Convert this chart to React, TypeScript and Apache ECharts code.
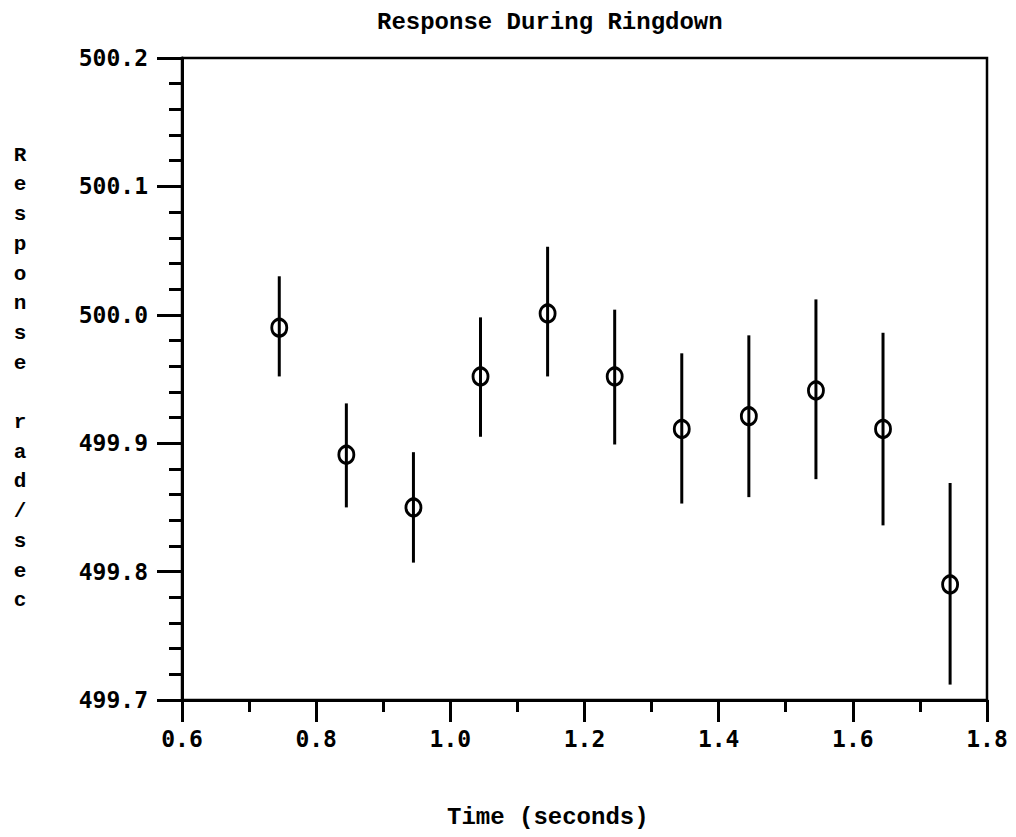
import React, { useEffect, useRef } from "react";
import * as echarts from "echarts";

const timeValues = [0.745, 0.845, 0.945, 1.045, 1.145, 1.245, 1.345, 1.445, 1.545, 1.645, 1.745];
const responseValues = [499.990, 499.891, 499.850, 499.952, 500.001, 499.952, 499.911, 499.921, 499.941, 499.911, 499.790];
const lowValues = [499.952, 499.850, 499.807, 499.905, 499.952, 499.899, 499.853, 499.858, 499.872, 499.836, 499.712];
const highValues = [500.030, 499.931, 499.893, 499.998, 500.053, 500.004, 499.970, 499.984, 500.012, 499.986, 499.869];

const titleText = "Response During Ringdown";
const xAxisTitle = "Time (seconds)";
const yAxisTitle = "Response rad/sec";

const tickFont = "DejaVu Sans Mono";
const textFont = "Liberation Mono";

export default function App() {
  const ref = useRef<HTMLDivElement>(null);
  useEffect(() => {
    if (!ref.current) return;
    const chart = echarts.init(ref.current, undefined, { renderer: "svg" });
    const points = timeValues.map((t, i) => [t, responseValues[i]]);
    const bars = timeValues.map((t, i) => [t, lowValues[i], highValues[i]]);
    const yLabelStacked = yAxisTitle.split("").map((c) => (c === " " ? "" : c)).join("\n");
    chart.setOption({
      animation: false,
      backgroundColor: "#ffffff",
      title: {
        text: titleText,
        left: 372,
        top: 5,
        textStyle: { fontFamily: textFont, fontWeight: "bold", fontSize: 24, color: "#000" },
      },
      grid: {
        left: 182,
        right: 29,
        top: 58,
        bottom: 137,
        show: true,
        borderColor: "#000",
        borderWidth: 2.5,
        backgroundColor: "transparent",
      },
      xAxis: {
        type: "value",
        min: 0.6,
        max: 1.8,
        interval: 0.2,
        axisLine: { show: true, lineStyle: { color: "#000", width: 3 } },
        axisTick: { show: true, inside: false, length: 22, lineStyle: { color: "#000", width: 3 } },
        minorTick: { show: true, splitNumber: 2, length: 12, lineStyle: { color: "#000", width: 3 } },
        splitLine: { show: false },
        axisLabel: {
          margin: 27,
          fontFamily: tickFont,
          fontWeight: "bold",
          fontSize: 23,
          color: "#000",
          formatter: (v: number) => v.toFixed(1),
        },
      },
      yAxis: {
        type: "value",
        min: 499.7,
        max: 500.2,
        interval: 0.1,
        axisLine: { show: true, lineStyle: { color: "#000", width: 3 } },
        axisTick: { show: true, inside: false, length: 25, lineStyle: { color: "#000", width: 3 } },
        minorTick: { show: true, splitNumber: 5, length: 13, lineStyle: { color: "#000", width: 3 } },
        splitLine: { show: false },
        axisLabel: {
          margin: 34,
          fontFamily: tickFont,
          fontWeight: "bold",
          fontSize: 23,
          color: "#000",
          formatter: (v: number) => v.toFixed(1),
        },
      },
      graphic: [
        {
          type: "text",
          left: 447,
          top: 805,
          style: {
            text: xAxisTitle,
            font: `bold 24px "${textFont}"`,
            fill: "#000",
          },
        },
        {
          type: "text",
          x: 20,
          y: 378,
          style: {
            text: yLabelStacked,
            font: `bold 21px "${textFont}"`,
            lineHeight: 29.7,
            fill: "#000",
            align: "center",
            verticalAlign: "middle",
          },
        },
      ],
      series: [
        {
          type: "custom",
          name: "error",
          data: bars,
          renderItem: (params: any, api: any) => {
            const x = api.value(0);
            const p1 = api.coord([x, api.value(1)]);
            const p2 = api.coord([x, api.value(2)]);
            return {
              type: "line",
              shape: { x1: p1[0], y1: p1[1], x2: p2[0], y2: p2[1] },
              style: { stroke: "#000", lineWidth: 3 },
            };
          },
          z: 2,
        },
        {
          type: "scatter",
          name: "response",
          data: points,
          symbol: "circle",
          symbolSize: [15, 17],
          itemStyle: { color: "transparent", borderColor: "#000", borderWidth: 3, opacity: 1 },
          z: 3,
        },
      ],
    });
    return () => chart.dispose();
  }, []);
  return <div ref={ref} style={{ width: 1016, height: 837, margin: -8 }} />;
}
